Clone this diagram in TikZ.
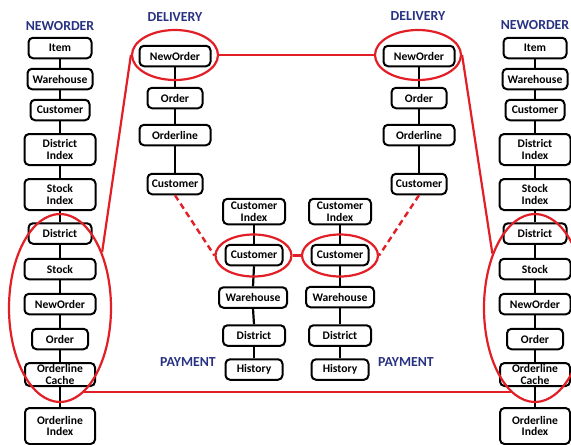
\documentclass[tikz,border=0pt]{standalone}
\usepackage{fontspec}
\setmainfont{Carlito}
\usetikzlibrary{shapes.geometric}
\definecolor{linkred}{RGB}{226,30,38}
\definecolor{titleblue}{RGB}{40,50,130}
\begin{document}
\begin{tikzpicture}[x=1pt,y=-1pt,
  tb/.style={draw=black, line width=2pt, rounded corners=4.5pt, fill=white,
    align=center, inner sep=0pt, minimum height=20.5pt,
    font=\fontsize{11.6}{11.8}\selectfont\bfseries},
  tall/.style={minimum height=31pt},
  conn/.style={line width=2.2pt, black},
  ttl/.style={text=titleblue, font=\fontsize{13.8}{15}\selectfont\bfseries, inner sep=0pt},
  ring/.style={ellipse, draw=linkred, line width=2.2pt, inner sep=0pt},
  redl/.style={draw=linkred, line width=2.2pt},
  redd/.style={draw=linkred, line width=2.4pt, dash pattern=on 6pt off 4pt}]
\useasboundingbox (0,0) rectangle (571,445);

% ---------- NEWORDER transaction, left ----------
\node[ttl] (tNL) at (60,26) {NEWORDER};
\node[tb, minimum width=63pt] (L1) at (60,48) {Item};
\node[tb, minimum width=65pt] (L2) at (60,79) {Warehouse};
\node[tb, minimum width=59pt] (L3) at (60,110) {Customer};
\node[tb, tall, minimum width=71pt] (L4) at (60,149.5) {District\\Index};
\node[tb, tall, minimum width=71pt] (L5) at (60,194.5) {Stock\\Index};
\node[tb, minimum width=63pt] (L6) at (60,233.5) {District};
\node[tb, minimum width=71pt] (L7) at (60,269) {Stock};
\node[tb, minimum width=71pt] (L8) at (60,304) {NewOrder};
\node[tb, minimum width=56pt] (L9) at (60,339) {Order};
\node[tb, minimum height=23pt, minimum width=70pt] (L10) at (60,374.5) {Orderline\\Cache};
\node[tb, minimum height=36pt, minimum width=70pt] (L11) at (60,426) {Orderline\\Index};

% ---------- NEWORDER transaction, right ----------
\node[ttl] (tNR) at (535,25) {NEWORDER};
\node[tb, minimum width=63pt] (R1) at (535,48) {Item};
\node[tb, minimum width=65pt] (R2) at (535,79) {Warehouse};
\node[tb, minimum width=59pt] (R3) at (535,110) {Customer};
\node[tb, tall, minimum width=71pt] (R4) at (535,149.5) {District\\Index};
\node[tb, tall, minimum width=71pt] (R5) at (535,194.5) {Stock\\Index};
\node[tb, minimum width=63pt] (R6) at (535,233.5) {District};
\node[tb, minimum width=71pt] (R7) at (535,269) {Stock};
\node[tb, minimum width=71pt] (R8) at (535,304) {NewOrder};
\node[tb, minimum width=56pt] (R9) at (535,339) {Order};
\node[tb, minimum height=23pt, minimum width=70pt] (R10) at (535,374.5) {Orderline\\Cache};
\node[tb, minimum height=36pt, minimum width=70pt] (R11) at (535,426) {Orderline\\Index};

% ---------- DELIVERY transactions ----------
\node[ttl] (tDL) at (175,17) {DELIVERY};
\node[tb, minimum width=71pt] (DL1) at (175,56) {NewOrder};
\node[tb, minimum width=55pt] (DL2) at (175,98) {Order};
\node[tb, minimum width=71pt] (DL3) at (175,135) {Orderline};
\node[tb, minimum width=55pt] (DL4) at (175,184) {Customer};

\node[ttl] (tDR) at (418,16) {DELIVERY};
\node[tb, minimum width=71pt] (DR1) at (419,56) {NewOrder};
\node[tb, minimum width=55pt] (DR2) at (419,98) {Order};
\node[tb, minimum width=71pt] (DR3) at (419,135) {Orderline};
\node[tb, minimum width=55pt] (DR4) at (419,184) {Customer};

% ---------- PAYMENT transactions ----------
\node[ttl] (tPL) at (188,362) {PAYMENT};
\node[tb, minimum height=25.5pt, minimum width=62pt] (PL1) at (254,211.5) {Customer\\Index};
\node[tb, minimum width=57pt] (PL2) at (254,255) {Customer};
\node[tb, minimum width=68pt] (PL3) at (253,297.5) {Warehouse};
\node[tb, minimum width=62pt] (PL4) at (254,335.5) {District};
\node[tb, minimum width=57pt] (PL5) at (254,369.5) {History};

\node[ttl] (tPR) at (406,362) {PAYMENT};
\node[tb, minimum height=25.5pt, minimum width=62pt] (PR1) at (340,211.5) {Customer\\Index};
\node[tb, minimum width=57pt] (PR2) at (340,255) {Customer};
\node[tb, minimum width=68pt] (PR3) at (340,297) {Warehouse};
\node[tb, minimum width=62pt] (PR4) at (340,335.5) {District};
\node[tb, minimum width=57pt] (PR5) at (340,369.5) {History};

% ---------- links inside each transaction ----------
\foreach \a/\b in {L1/L2,L2/L3,L3/L4,L4/L5,L5/L6,L6/L7,L7/L8,L8/L9,L9/L10,L10/L11,
                   R1/R2,R2/R3,R3/R4,R4/R5,R5/R6,R6/R7,R7/R8,R8/R9,R9/R10,R10/R11,
                   DL1/DL2,DL2/DL3,DL3/DL4,DR1/DR2,DR2/DR3,DR3/DR4,
                   PL1/PL2,PL2/PL3,PL3/PL4,PL4/PL5,PR1/PR2,PR2/PR3,PR3/PR4,PR4/PR5}
  \draw[conn] (\a.south) -- (\b.north);

% ---------- conflict groups ----------
\node[ring, minimum width=102pt, minimum height=188pt] (EL) at (60,308) {};
\node[ring, minimum width=102pt, minimum height=188pt] (ER) at (535,308) {};
\node[ring, minimum width=86pt, minimum height=50pt] (EDL) at (175,55) {};
\node[ring, minimum width=86pt, minimum height=50pt] (EDR) at (418,55) {};
\node[ring, minimum width=76pt, minimum height=42pt] (EPL) at (253.5,255.5) {};
\node[ring, minimum width=76pt, minimum height=42pt] (EPR) at (340,255.5) {};

\draw[redl] (EL.53) -- (EDL.west);
\draw[redl] (EDL.east) -- (EDR.west);
\draw[redl] (EDR.east) -- (ER.128);
\draw[redl] (EL.-74) -- (ER.-106);
\draw[redl] (EPL.east) -- (EPR.west);
\draw[redd] (DL4.south) -- (EPL.west);
\draw[redd] (DR4.south) -- (EPR.east);
\end{tikzpicture}
\end{document}
